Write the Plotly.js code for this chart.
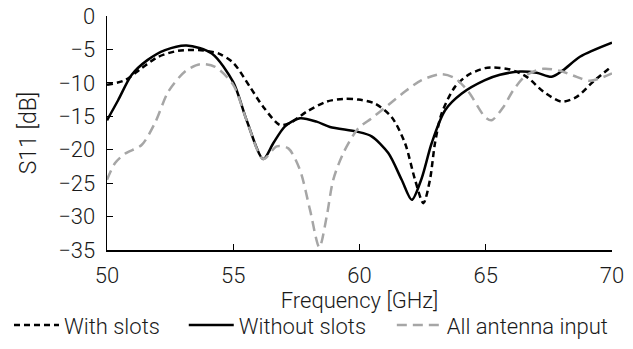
<!DOCTYPE html>
<html>
<head>
<meta charset="utf-8">
<script src="https://cdn.plot.ly/plotly-3.0.1.min.js"></script>
<style>html,body{margin:0;padding:0;background:#fff;}#chart{width:633px;height:349px;}</style>
</head>
<body>
<div id="chart"></div>
<script>
// With slots (black short dash)
const withSlotsF = [50, 50.71, 51.37, 52.03, 52.82, 53.62, 54.41, 55.0, 55.66, 56.19, 56.85, 57.25, 57.91, 58.7, 59.36, 59.95, 60.61, 61.27, 61.8, 62.2, 62.53, 62.79, 62.99, 63.25, 63.78, 64.31, 64.97, 65.3, 65.96, 66.62, 67.28, 68.0, 68.6, 69.26, 70];
const withSlotsS = [-10.3, -9.6, -7.8, -6.1, -5.2, -5.1, -5.6, -7.0, -10.6, -13.6, -16.3, -16.0, -14.3, -12.8, -12.4, -12.5, -13.1, -15.1, -19.0, -24.5, -28.0, -24.5, -19.0, -14.6, -10.6, -8.8, -7.8, -7.7, -8.0, -9.1, -11.3, -12.8, -12.1, -9.8, -7.5];
// Without slots (black solid)
const withoutSlotsF = [50, 50.44, 50.98, 51.6, 52.3, 53.15, 54.15, 55.0, 55.53, 56.19, 56.59, 57.05, 57.64, 58.3, 58.83, 59.9, 60.48, 61.14, 61.67, 62.07, 62.46, 62.86, 63.39, 64.05, 64.97, 65.56, 66.36, 67.02, 67.61, 68.07, 68.73, 70];
const withoutSlotsS = [-15.6, -12.6, -8.8, -6.6, -5.1, -4.4, -5.6, -9.9, -15.6, -21.4, -19.0, -16.5, -15.3, -15.8, -16.6, -17.3, -18.0, -20.5, -24.5, -27.5, -24.3, -19.0, -14.1, -11.6, -9.6, -8.8, -8.3, -8.5, -9.1, -8.1, -6.1, -4.0];
// All antenna input (gray dash)
const allInputF = [50, 50.32, 50.71, 51.37, 51.9, 52.43, 53.09, 53.68, 54.28, 55.0, 55.53, 56.19, 56.72, 57.18, 57.64, 58.04, 58.41, 58.7, 58.96, 59.36, 59.95, 60.48, 61.14, 61.8, 62.46, 63.25, 63.78, 64.31, 64.97, 65.23, 65.7, 66.09, 66.62, 67.28, 67.94, 68.6, 69.13, 70];
const allInputS = [-24.5, -22.0, -20.6, -19.3, -16.0, -11.3, -8.3, -7.2, -7.6, -10.3, -15.6, -21.4, -19.5, -19.8, -23.0, -29.0, -34.6, -30.0, -24.5, -20.5, -16.8, -15.3, -13.3, -11.3, -9.6, -8.7, -9.3, -11.3, -15.1, -15.6, -13.6, -11.1, -8.8, -7.9, -8.2, -9.1, -9.7, -8.6];

const names = ['With slots', 'Without slots', 'All antenna input'];
const xTitle = 'Frequency [GHz]';
const yTitle = 'S11 [dB]';

const fontFam = 'Roboto, "Liberation Sans", Arial, sans-serif';
const traces = [
  {x: withSlotsF, y: withSlotsS, name: names[0], mode: 'lines', legend: 'legend',
   line: {color: '#000', width: 2.5, dash: '6px,4px', shape: 'spline', smoothing: 0.8}},
  {x: withoutSlotsF, y: withoutSlotsS, name: names[1], mode: 'lines', legend: 'legend2',
   line: {color: '#000', width: 2.5, shape: 'spline', smoothing: 0.8}},
  {x: allInputF, y: allInputS, name: names[2], mode: 'lines', legend: 'legend3',
   line: {color: '#a6a6a6', width: 2.5, dash: '10px,6px', shape: 'spline', smoothing: 0.8}}
];

function leg(x) {
  return {orientation: 'h', x: x, xanchor: 'left', y: -0.232, yanchor: 'top',
          font: {family: fontFam, size: 22, color: '#1a1a1a', weight: 300},
          itemwidth: 45, bgcolor: 'rgba(0,0,0,0)'};
}

const layout = {
  width: 633, height: 349,
  margin: {l: 107, r: 21, t: 16, b: 99, autoexpand: false},
  paper_bgcolor: '#fff', plot_bgcolor: '#fff',
  font: {family: fontFam, size: 22, color: '#1a1a1a', weight: 300},
  showlegend: true,
  legend: leg(-0.194),
  legend2: leg(0.152),
  legend3: leg(0.564),
  xaxis: {range: [50, 70], dtick: 5, tick0: 50, showgrid: false, zeroline: false,
          showline: true, linecolor: '#000', linewidth: 1.5,
          ticks: 'inside', ticklen: 6, tickcolor: '#000', tickwidth: 1,
          ticklabelstandoff: 5,
          title: {text: xTitle, standoff: 0, font: {size: 22}}},
  yaxis: {range: [-35, 0], dtick: 5, showgrid: false, zeroline: false,
          showline: true, linecolor: '#000', linewidth: 1.5,
          ticks: 'inside', ticklen: 6, tickcolor: '#000', tickwidth: 1,
          ticklabelstandoff: 6,
          title: {text: yTitle, standoff: 15, font: {size: 23}}}
};

Plotly.newPlot('chart', traces, layout, {displayModeBar: false, staticPlot: true});
</script>
</body>
</html>
